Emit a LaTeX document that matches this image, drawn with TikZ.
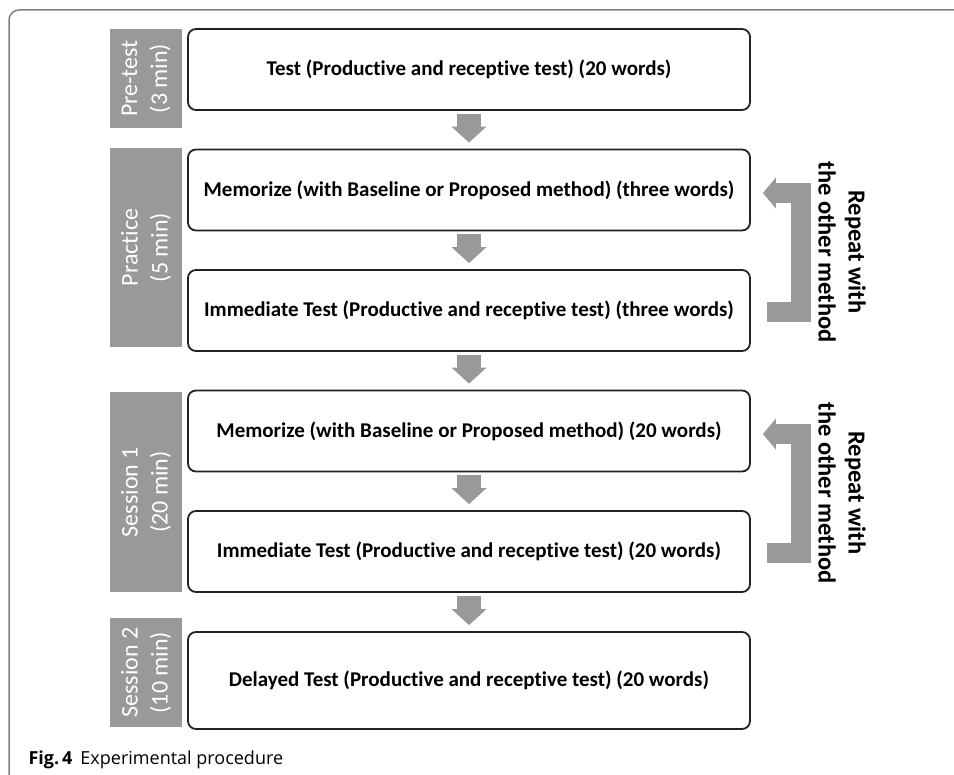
\documentclass[tikz,border=0pt]{standalone}
\usepackage{fontspec}
\setmainfont{Carlito}[Ligatures=NoCommon]
\newfontfamily\capfont{Open Sans}
\usetikzlibrary{arrows.meta,calc}
\definecolor{barfill}{HTML}{999999}
\definecolor{frameline}{HTML}{808080}
\definecolor{boxline}{HTML}{222222}

\begin{document}
\begin{tikzpicture}[x=1bp,y=-1bp,
  task/.style={draw=boxline,line width=1.8bp,rounded corners=8bp,minimum width=562bp,minimum height=81bp,inner sep=0pt,font=\fontsize{21bp}{25bp}\selectfont\bfseries},
  phase/.style={fill=barfill,text=white,rotate=90,minimum height=72bp,inner sep=0pt,align=center,font=\fontsize{24bp}{30bp}\selectfont},
  flow/.style={barfill,line width=24bp,-{Triangle[length=16bp,width=35bp,line width=0pt]},shorten <=3bp,shorten >=6bp},
  backarrow/.style={barfill,line width=20bp,line join=miter,-{Triangle[length=13bp,width=31bp,line width=0pt]}},
  repeattext/.style={rotate=-90,align=center,font=\fontsize{24.5bp}{30bp}\selectfont\bfseries}]
\useasboundingbox (0,0) rectangle (954,775);
\draw[frameline,line width=1.5bp,rounded corners=10bp] (960,10)--(9,10)--(9,780);

\node[phase,minimum width=99bp] (pre) at (146,78.5) {Pre-test\\(3 min)};
\node[phase,minimum width=199bp] (prac) at (146,247.5) {Practice\\(5 min)};
\node[phase,minimum width=200bp] (ses1) at (146,492) {Session 1\\(20 min)};
\node[phase,minimum width=109bp] (ses2) at (146,672.5) {Session 2\\(10 min)};

\node[task] (test) at (469,69.5) {Test (Productive and receptive test) (20 words)};
\node[task] (mem1) at (469,190) {Memorize (with Baseline or Proposed method) (three words)};
\node[task] (imm1) at (469,310.5) {Immediate Test (Productive and receptive test) (three words)};
\node[task] (mem2) at (469,431) {Memorize (with Baseline or Proposed method) (20 words)};
\node[task] (imm2) at (469,551.5) {Immediate Test (Productive and receptive test) (20 words)};
\node[task,minimum height=97bp] (delay) at (469,680.5) {Delayed Test (Productive and receptive test) (20 words)};

\draw[flow] (test.south)--(mem1.north);
\draw[flow] (mem1.south)--(imm1.north);
\draw[flow] (imm1.south)--(mem2.north);
\draw[flow] (mem2.south)--(imm2.north);
\draw[flow] (imm2.south)--(delay.north);

\draw[backarrow] ($(imm1.east)+(16,1.5)$) -| ($(mem1.east)+(50,3)$) -- ($(mem1.east)+(12,3)$);
\draw[backarrow] ($(imm2.east)+(16,1.5)$) -| ($(mem2.east)+(50,3)$) -- ($(mem2.east)+(12,3)$);
\node[repeattext] (rep1) at (842,252) {Repeat with\\the other method};
\node[repeattext] (rep2) at (842,493) {Repeat with\\the other method};

\node[anchor=base west,font=\capfont\fontsize{18bp}{21bp}\selectfont] (caption) at (25,764) {\textbf{Fig.\,4}\hspace{8bp}Experimental procedure};
\end{tikzpicture}
\end{document}
